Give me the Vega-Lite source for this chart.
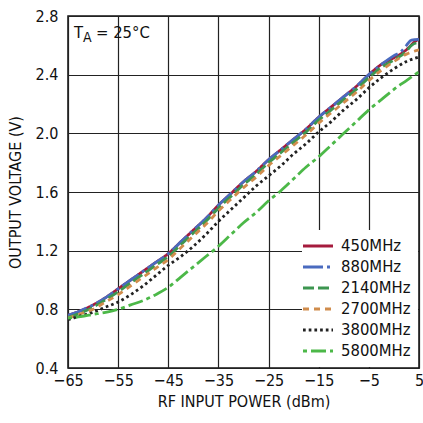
{
"$schema": "https://vega.github.io/schema/vega-lite/v6.json",
"width": 351, "height": 352,
"autosize": "none",
"padding": {"left": 68, "top": 16, "right": 4, "bottom": 55},
"background": "white",
"config": {
  "view": {"stroke": "#111", "strokeWidth": 1.5},
  "font": "'DejaVu Sans Condensed', 'Liberation Sans', sans-serif",
  "axis": {"gridColor": "#222", "gridWidth": 1.2, "gridOpacity": 1, "domain": false, "ticks": false, "labelFlush": false,
    "labelFont": "'DejaVu Sans Condensed', 'Liberation Sans', sans-serif", "labelFontSize": 16, "labelColor": "#111",
    "titleFont": "'DejaVu Sans Condensed', 'Liberation Sans', sans-serif", "titleFontSize": 16, "titleFontWeight": "normal", "titleColor": "#111"},
  "legend": {"orient": "bottom-right", "offset": 1, "fillColor": "white", "padding": 7,
    "symbolType": "M-2,0H2", "symbolSize": 225, "symbolStrokeWidth": 3,
    "labelFont": "'DejaVu Sans Condensed', 'Liberation Sans', sans-serif", "labelFontSize": 16.5, "labelColor": "#111",
    "labelOffset": 14, "rowPadding": 3}
},
"data": {"values": [
{"f":"450MHz","p":-65,"v":0.76},{"f":"450MHz","p":-62.5,"v":0.79},{"f":"450MHz","p":-60,"v":0.83},{"f":"450MHz","p":-57.5,"v":0.88},{"f":"450MHz","p":-55,"v":0.94},{"f":"450MHz","p":-52.5,"v":1.0},{"f":"450MHz","p":-50,"v":1.06},{"f":"450MHz","p":-47.5,"v":1.12},{"f":"450MHz","p":-45,"v":1.18},{"f":"450MHz","p":-42.5,"v":1.26},{"f":"450MHz","p":-40,"v":1.34},{"f":"450MHz","p":-37.5,"v":1.42},{"f":"450MHz","p":-35,"v":1.51},{"f":"450MHz","p":-32.5,"v":1.59},{"f":"450MHz","p":-30,"v":1.67},{"f":"450MHz","p":-27.5,"v":1.74},{"f":"450MHz","p":-25,"v":1.82},{"f":"450MHz","p":-22.5,"v":1.89},{"f":"450MHz","p":-20,"v":1.96},{"f":"450MHz","p":-17.5,"v":2.03},{"f":"450MHz","p":-15,"v":2.11},{"f":"450MHz","p":-12.5,"v":2.18},{"f":"450MHz","p":-10,"v":2.25},{"f":"450MHz","p":-7.5,"v":2.32},{"f":"450MHz","p":-5,"v":2.4},{"f":"450MHz","p":-2.5,"v":2.47},{"f":"450MHz","p":0,"v":2.515},{"f":"450MHz","p":2.5,"v":2.57},{"f":"450MHz","p":4,"v":2.62},{"f":"450MHz","p":5,"v":2.645},
{"f":"880MHz","p":-65,"v":0.76},{"f":"880MHz","p":-62.5,"v":0.79},{"f":"880MHz","p":-60,"v":0.83},{"f":"880MHz","p":-57.5,"v":0.88},{"f":"880MHz","p":-55,"v":0.94},{"f":"880MHz","p":-52.5,"v":1.0},{"f":"880MHz","p":-50,"v":1.06},{"f":"880MHz","p":-47.5,"v":1.12},{"f":"880MHz","p":-45,"v":1.18},{"f":"880MHz","p":-42.5,"v":1.26},{"f":"880MHz","p":-40,"v":1.34},{"f":"880MHz","p":-37.5,"v":1.42},{"f":"880MHz","p":-35,"v":1.51},{"f":"880MHz","p":-32.5,"v":1.59},{"f":"880MHz","p":-30,"v":1.67},{"f":"880MHz","p":-27.5,"v":1.74},{"f":"880MHz","p":-25,"v":1.82},{"f":"880MHz","p":-22.5,"v":1.89},{"f":"880MHz","p":-20,"v":1.96},{"f":"880MHz","p":-17.5,"v":2.03},{"f":"880MHz","p":-15,"v":2.11},{"f":"880MHz","p":-12.5,"v":2.18},{"f":"880MHz","p":-10,"v":2.25},{"f":"880MHz","p":-7.5,"v":2.32},{"f":"880MHz","p":-5,"v":2.4},{"f":"880MHz","p":-2.5,"v":2.47},{"f":"880MHz","p":0,"v":2.53},{"f":"880MHz","p":1.5,"v":2.56},{"f":"880MHz","p":2.5,"v":2.6},{"f":"880MHz","p":3.5,"v":2.635},{"f":"880MHz","p":5,"v":2.64},
{"f":"2140MHz","p":-65,"v":0.745},{"f":"2140MHz","p":-62.5,"v":0.775},{"f":"2140MHz","p":-60,"v":0.815},{"f":"2140MHz","p":-57.5,"v":0.865},{"f":"2140MHz","p":-55,"v":0.92},{"f":"2140MHz","p":-52.5,"v":0.98},{"f":"2140MHz","p":-50,"v":1.04},{"f":"2140MHz","p":-47.5,"v":1.1},{"f":"2140MHz","p":-45,"v":1.16},{"f":"2140MHz","p":-42.5,"v":1.24},{"f":"2140MHz","p":-40,"v":1.32},{"f":"2140MHz","p":-37.5,"v":1.4},{"f":"2140MHz","p":-35,"v":1.49},{"f":"2140MHz","p":-32.5,"v":1.57},{"f":"2140MHz","p":-30,"v":1.65},{"f":"2140MHz","p":-27.5,"v":1.72},{"f":"2140MHz","p":-25,"v":1.8},{"f":"2140MHz","p":-22.5,"v":1.87},{"f":"2140MHz","p":-20,"v":1.94},{"f":"2140MHz","p":-17.5,"v":2.01},{"f":"2140MHz","p":-15,"v":2.09},{"f":"2140MHz","p":-12.5,"v":2.16},{"f":"2140MHz","p":-10,"v":2.23},{"f":"2140MHz","p":-7.5,"v":2.3},{"f":"2140MHz","p":-5,"v":2.38},{"f":"2140MHz","p":-2.5,"v":2.45},{"f":"2140MHz","p":0,"v":2.5},{"f":"2140MHz","p":2.5,"v":2.56},{"f":"2140MHz","p":3.5,"v":2.6},{"f":"2140MHz","p":5,"v":2.62},
{"f":"2700MHz","p":-65,"v":0.74},{"f":"2700MHz","p":-62.5,"v":0.77},{"f":"2700MHz","p":-60,"v":0.8},{"f":"2700MHz","p":-57.5,"v":0.85},{"f":"2700MHz","p":-55,"v":0.9},{"f":"2700MHz","p":-52.5,"v":0.96},{"f":"2700MHz","p":-50,"v":1.02},{"f":"2700MHz","p":-47.5,"v":1.08},{"f":"2700MHz","p":-45,"v":1.14},{"f":"2700MHz","p":-42.5,"v":1.22},{"f":"2700MHz","p":-40,"v":1.3},{"f":"2700MHz","p":-37.5,"v":1.38},{"f":"2700MHz","p":-35,"v":1.47},{"f":"2700MHz","p":-32.5,"v":1.55},{"f":"2700MHz","p":-30,"v":1.63},{"f":"2700MHz","p":-27.5,"v":1.7},{"f":"2700MHz","p":-25,"v":1.78},{"f":"2700MHz","p":-22.5,"v":1.85},{"f":"2700MHz","p":-20,"v":1.92},{"f":"2700MHz","p":-17.5,"v":1.99},{"f":"2700MHz","p":-15,"v":2.07},{"f":"2700MHz","p":-12.5,"v":2.14},{"f":"2700MHz","p":-10,"v":2.21},{"f":"2700MHz","p":-7.5,"v":2.28},{"f":"2700MHz","p":-5,"v":2.36},{"f":"2700MHz","p":-2.5,"v":2.43},{"f":"2700MHz","p":0,"v":2.49},{"f":"2700MHz","p":2.5,"v":2.54},{"f":"2700MHz","p":5,"v":2.57},
{"f":"3800MHz","p":-65,"v":0.73},{"f":"3800MHz","p":-62.5,"v":0.755},{"f":"3800MHz","p":-60,"v":0.78},{"f":"3800MHz","p":-57.5,"v":0.815},{"f":"3800MHz","p":-55,"v":0.85},{"f":"3800MHz","p":-52.5,"v":0.9},{"f":"3800MHz","p":-50,"v":0.96},{"f":"3800MHz","p":-47.5,"v":1.03},{"f":"3800MHz","p":-45,"v":1.1},{"f":"3800MHz","p":-42.5,"v":1.16},{"f":"3800MHz","p":-40,"v":1.23},{"f":"3800MHz","p":-37.5,"v":1.31},{"f":"3800MHz","p":-35,"v":1.4},{"f":"3800MHz","p":-32.5,"v":1.48},{"f":"3800MHz","p":-30,"v":1.56},{"f":"3800MHz","p":-27.5,"v":1.64},{"f":"3800MHz","p":-25,"v":1.71},{"f":"3800MHz","p":-22.5,"v":1.78},{"f":"3800MHz","p":-20,"v":1.86},{"f":"3800MHz","p":-17.5,"v":1.93},{"f":"3800MHz","p":-15,"v":2.01},{"f":"3800MHz","p":-12.5,"v":2.08},{"f":"3800MHz","p":-10,"v":2.16},{"f":"3800MHz","p":-7.5,"v":2.23},{"f":"3800MHz","p":-5,"v":2.31},{"f":"3800MHz","p":-2.5,"v":2.38},{"f":"3800MHz","p":0,"v":2.44},{"f":"3800MHz","p":2.5,"v":2.49},{"f":"3800MHz","p":5,"v":2.52},
{"f":"5800MHz","p":-65,"v":0.74},{"f":"5800MHz","p":-62.5,"v":0.75},{"f":"5800MHz","p":-60,"v":0.765},{"f":"5800MHz","p":-57.5,"v":0.78},{"f":"5800MHz","p":-55,"v":0.8},{"f":"5800MHz","p":-52.5,"v":0.83},{"f":"5800MHz","p":-50,"v":0.86},{"f":"5800MHz","p":-47.5,"v":0.9},{"f":"5800MHz","p":-45,"v":0.95},{"f":"5800MHz","p":-42.5,"v":1.02},{"f":"5800MHz","p":-40,"v":1.09},{"f":"5800MHz","p":-37.5,"v":1.16},{"f":"5800MHz","p":-35,"v":1.23},{"f":"5800MHz","p":-32.5,"v":1.31},{"f":"5800MHz","p":-30,"v":1.39},{"f":"5800MHz","p":-27.5,"v":1.46},{"f":"5800MHz","p":-25,"v":1.54},{"f":"5800MHz","p":-22.5,"v":1.61},{"f":"5800MHz","p":-20,"v":1.69},{"f":"5800MHz","p":-17.5,"v":1.77},{"f":"5800MHz","p":-15,"v":1.84},{"f":"5800MHz","p":-12.5,"v":1.92},{"f":"5800MHz","p":-10,"v":2.0},{"f":"5800MHz","p":-7.5,"v":2.08},{"f":"5800MHz","p":-5,"v":2.16},{"f":"5800MHz","p":-2.5,"v":2.23},{"f":"5800MHz","p":0,"v":2.3},{"f":"5800MHz","p":2.5,"v":2.36},{"f":"5800MHz","p":5,"v":2.42}
]},
"layer": [
  {"mark": {"type": "line", "strokeWidth": 2.8, "clip": true, "interpolate": "monotone"},
   "encoding": {
     "x": {"field": "p", "type": "quantitative", "scale": {"domain": [-65, 5], "nice": false, "zero": false},
       "axis": {"values": [-65, -55, -45, -35, -25, -15, -5, 5], "title": "RF INPUT POWER (dBm)", "labelPadding": 4, "titlePadding": 5}},
     "y": {"field": "v", "type": "quantitative", "scale": {"domain": [0.4, 2.8], "nice": false, "zero": false},
       "axis": {"values": [0.4, 0.8, 1.2, 1.6, 2.0, 2.4, 2.8], "format": ".1f", "title": "OUTPUT VOLTAGE (V)", "labelPadding": 10, "titlePadding": 12}},
     "color": {"field": "f", "type": "nominal", "title": null,
       "scale": {"domain": ["450MHz", "880MHz", "2140MHz", "2700MHz", "3800MHz", "5800MHz"],
                 "range": ["#a51b3d", "#4a6bbf", "#3d9650", "#d08c4c", "#222222", "#4cb848"]}},
     "strokeDash": {"field": "f", "type": "nominal", "title": null,
       "scale": {"domain": ["450MHz", "880MHz", "2140MHz", "2700MHz", "3800MHz", "5800MHz"],
                 "range": [[1, 0], [20, 4, 3, 4], [11, 4], [6, 5], [2.7, 3], [4, 4, 15, 4]]}}
   }},
  {"data": {"values": [{}]},
   "mark": {"type": "text", "text": "T", "align": "left", "baseline": "alphabetic", "fontSize": 16.5, "color": "#111"},
   "encoding": {"x": {"datum": -63.8}, "y": {"datum": 2.648}}},
  {"data": {"values": [{}]},
   "mark": {"type": "text", "text": "A", "align": "left", "baseline": "alphabetic", "fontSize": 14, "color": "#111", "dx": 9, "dy": 3.5},
   "encoding": {"x": {"datum": -63.8}, "y": {"datum": 2.648}}},
  {"data": {"values": [{}]},
   "mark": {"type": "text", "text": "= 25°C", "align": "left", "baseline": "alphabetic", "fontSize": 16.5, "color": "#111", "dx": 22},
   "encoding": {"x": {"datum": -63.8}, "y": {"datum": 2.648}}}
]
}
